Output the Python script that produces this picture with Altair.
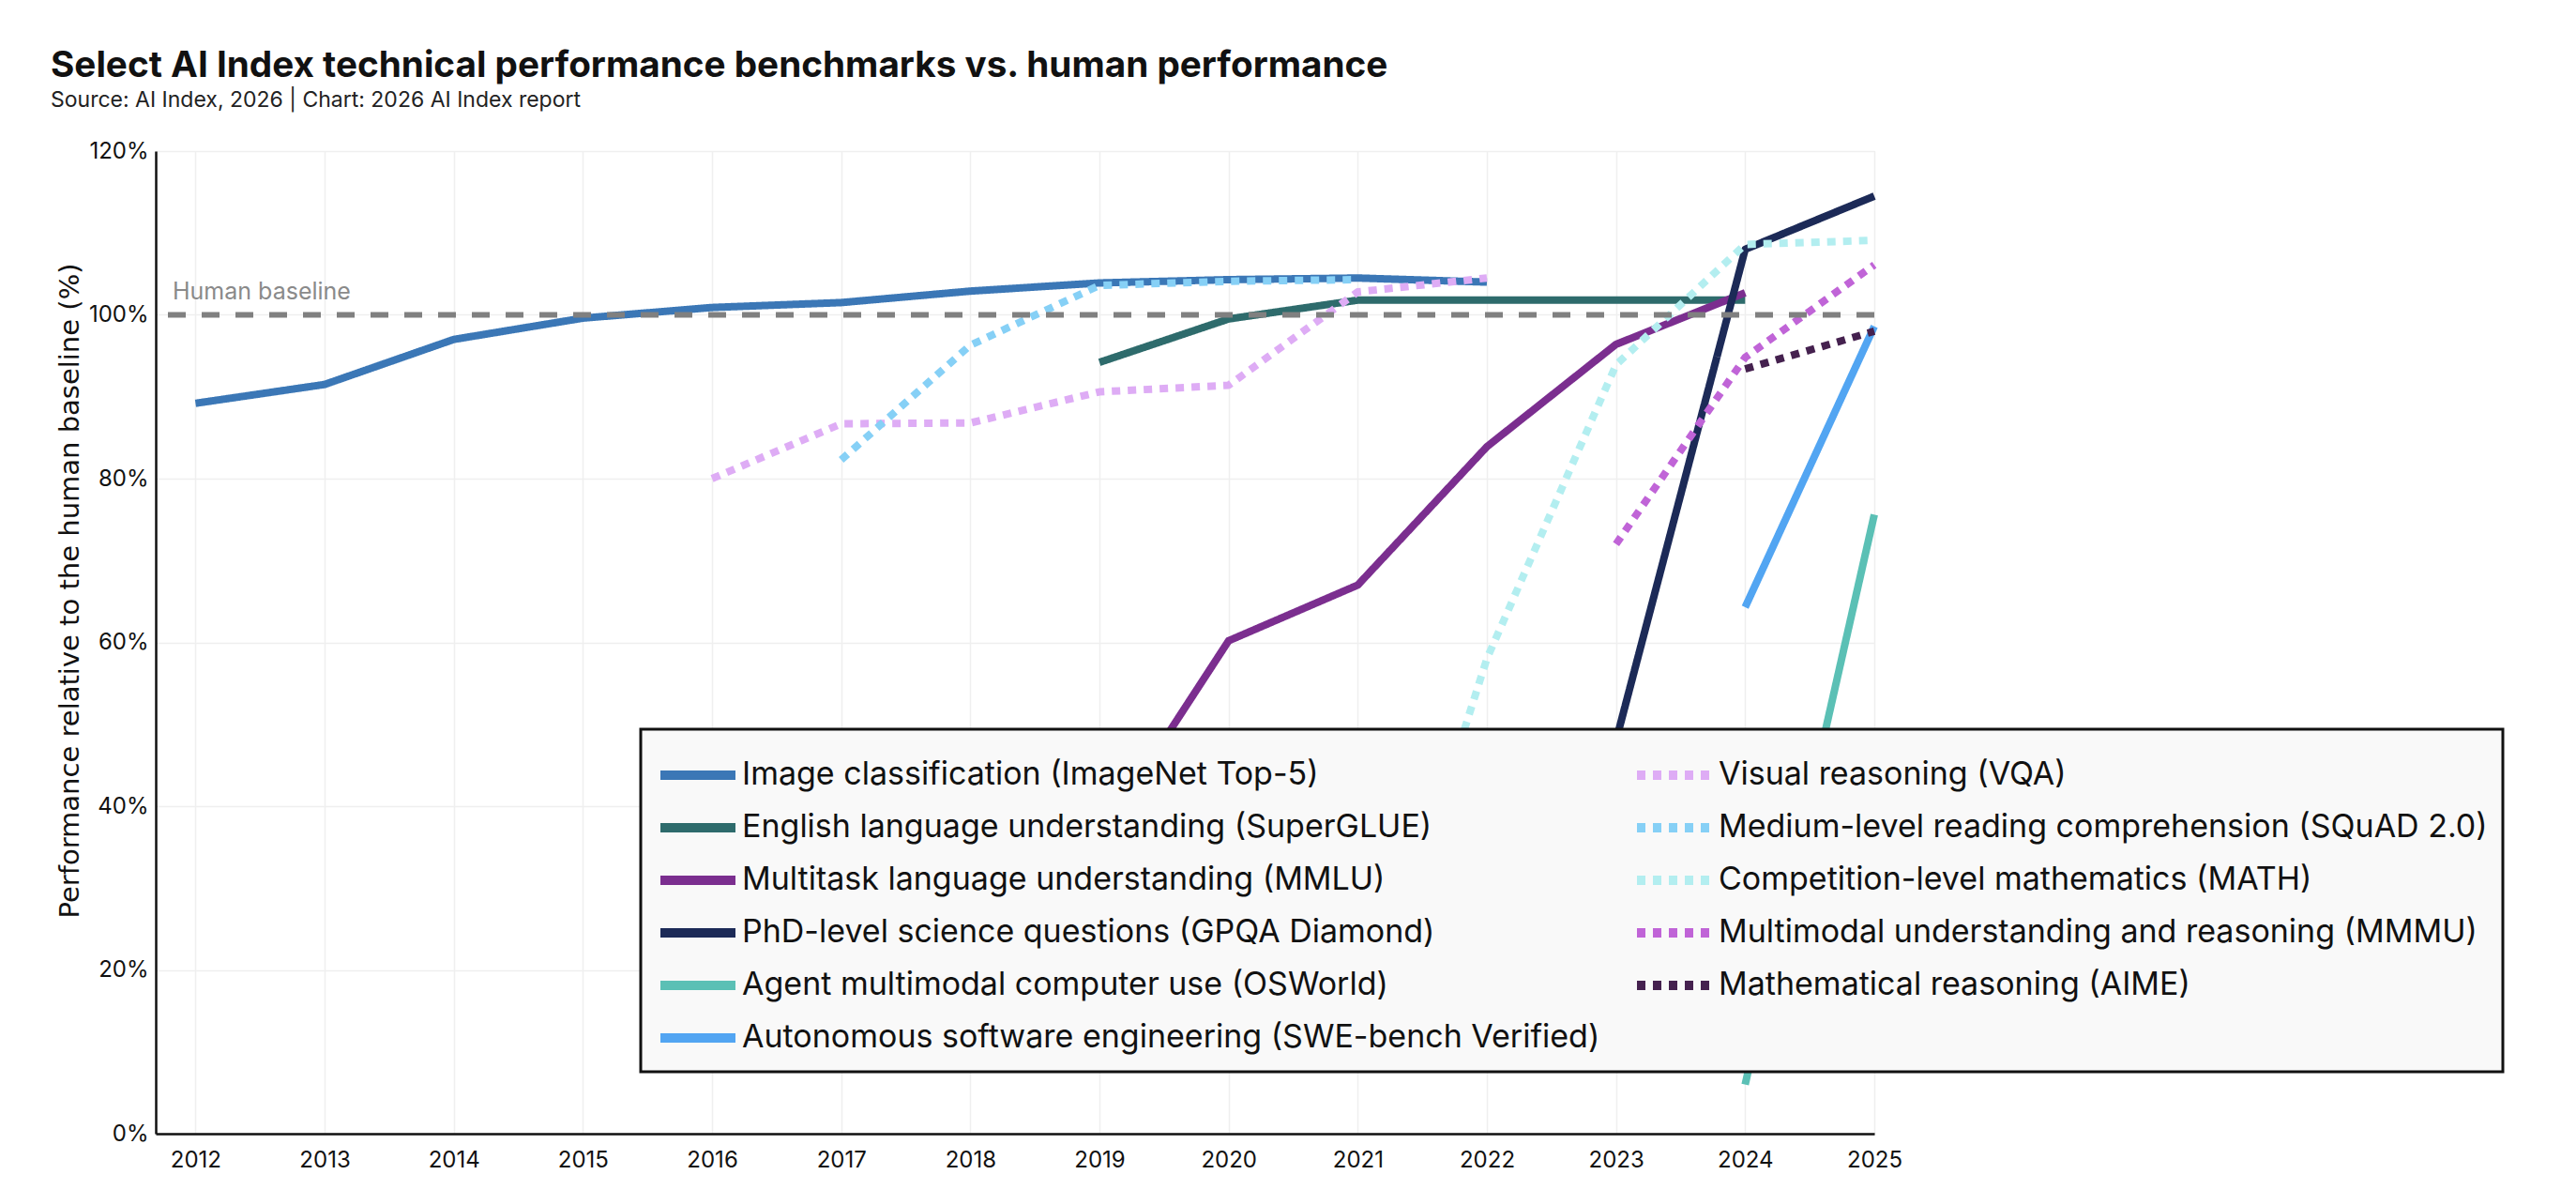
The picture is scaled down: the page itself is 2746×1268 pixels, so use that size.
import altair as alt
import pandas as pd

# ---------------- data ----------------
names = [
    "Image classification (ImageNet Top-5)",
    "English language understanding (SuperGLUE)",
    "Multitask language understanding (MMLU)",
    "PhD-level science questions (GPQA Diamond)",
    "Agent multimodal computer use (OSWorld)",
    "Autonomous software engineering (SWE-bench Verified)",
    "Visual reasoning (VQA)",
    "Medium-level reading comprehension (SQuAD 2.0)",
    "Competition-level mathematics (MATH)",
    "Multimodal understanding and reasoning (MMMU)",
    "Mathematical reasoning (AIME)",
]
colors = ["#3b77b6", "#2e6b6c", "#7b2e8f", "#1c2a57", "#5bc0b5", "#52a5f2",
          "#deacf5", "#86d0f6", "#b3eef0", "#c064d7", "#45214f"]
dotted = [False, False, False, False, False, False, True, True, True, True, True]

imagenet_years = [2012, 2013, 2014, 2015, 2016, 2017, 2018, 2019, 2020, 2021, 2022]
imagenet_vals = [89.2, 91.5, 97.0, 99.6, 100.9, 101.5, 102.9, 103.9, 104.3, 104.5, 104.0]

superglue_years = [2019, 2020, 2021, 2022, 2023, 2024]
superglue_vals = [94.2, 99.5, 101.8, 101.8, 101.8, 101.8]

mmlu_years = [2019, 2020, 2021, 2022, 2023, 2024]
mmlu_vals = [36.0, 60.2, 67.0, 83.9, 96.4, 102.7]

gpqa_years = [2023, 2024, 2025]
gpqa_vals = [48.0, 108.0, 114.5]

osworld_years = [2024, 2025]
osworld_vals = [6.0, 75.6]

swe_years = [2024, 2025]
swe_vals = [64.3, 98.6]

vqa_years = [2016, 2017, 2018, 2019, 2020, 2021, 2022]
vqa_vals = [80.0, 86.7, 86.8, 90.6, 91.4, 102.8, 104.5]

squad_years = [2017, 2018, 2019, 2020, 2021]
squad_vals = [82.3, 96.3, 103.6, 104.1, 104.3]

math_years = [2021, 2022, 2023, 2024, 2025]
math_vals = [8.5, 58.0, 93.9, 108.6, 109.1]

mmmu_years = [2023, 2024, 2025]
mmmu_vals = [72.0, 94.8, 106.1]

aime_years = [2024, 2025]
aime_vals = [93.4, 98.0]

x_ticks = [2012, 2013, 2014, 2015, 2016, 2017, 2018, 2019, 2020, 2021, 2022, 2023, 2024, 2025]
y_ticks = [0, 20, 40, 60, 80, 100, 120]
human_baseline = [100]

series_years = [imagenet_years, superglue_years, mmlu_years, gpqa_years, osworld_years, swe_years,
                vqa_years, squad_years, math_years, mmmu_years, aime_years]
series_vals = [imagenet_vals, superglue_vals, mmlu_vals, gpqa_vals, osworld_vals, swe_vals,
               vqa_vals, squad_vals, math_vals, mmmu_vals, aime_vals]

rows = []
for order, (name, ys, vs) in enumerate(zip(names, series_years, series_vals)):
    for yr, v in zip(ys, vs):
        rows.append({"benchmark": name, "year": yr, "value": v, "draw": order})
df = pd.DataFrame(rows)

# legend fills its two columns top to bottom
legend_order = names
color_range = colors
dash_range = [[9, 8] if d else [1, 0] for d in dotted]

FONT = "Inter"

leg = alt.Legend(
    title=None, orient="none", legendX=517, legendY=616, columns=2,
    symbolType="M-1.4286,0H1.4286", symbolSize=3136, symbolStrokeWidth=10, symbolOpacity=1,
    symbolOffset=12,
    labelFont=FONT, labelFontSize=34, labelColor="#111111", labelOffset=14,
    labelLimit=3000, rowPadding=3, columnPadding=18, padding=16,
    fillColor="#f9f9f9", strokeColor="#111111",
)

x_scale = alt.Scale(domain=[2011.692, 2025], nice=False, zero=False)
y_scale = alt.Scale(domain=[0, 120], nice=False)

lines = alt.Chart(df).mark_line(strokeWidth=8, strokeCap="butt", strokeJoin="round").encode(
    x=alt.X("year:Q", scale=x_scale,
            axis=alt.Axis(values=x_ticks, format="d", title=None, labelFont=FONT,
                          labelFontSize=24, labelColor="#111111", labelPadding=16,
                          ticks=False, domainColor="#111111", domainWidth=2.5,
                          gridColor="#efefef", gridWidth=1.5, labelFlush=False)),
    y=alt.Y("value:Q", scale=y_scale,
            axis=alt.Axis(values=y_ticks, labelExpr="datum.value + '%'",
                          title="Performance relative to the human baseline (%)",
                          titleFont="DejaVu Sans", titleFontSize=29, titleFontWeight="normal",
                          titleColor="#111111", titleX=-92, titleY=468, titleAngle=270,
                          titleAlign="center", titleBaseline="middle",
                          labelFont=FONT, labelFontSize=24, labelColor="#111111",
                          labelPadding=8, ticks=False, domainColor="#111111",
                          domainWidth=2.5, gridColor="#efefef", gridWidth=1.5)),
    color=alt.Color("benchmark:N", sort=legend_order,
                    scale=alt.Scale(domain=legend_order, range=color_range), legend=leg),
    strokeDash=alt.StrokeDash("benchmark:N", sort=legend_order,
                              scale=alt.Scale(domain=legend_order, range=dash_range), legend=leg),
    order=alt.Order("year:Q"),
)

base_df = pd.DataFrame({"value": human_baseline, "label": ["Human baseline"]})

rule = alt.Chart(base_df).mark_rule(color="#808080", strokeWidth=6, strokeDash=[19, 17]).encode(
    y=alt.Y("value:Q", scale=y_scale)
)

label = alt.Chart(base_df).mark_text(
    align="left", baseline="alphabetic", dy=-17, font=FONT, fontSize=25, color="#8a8a8a"
).encode(
    x=alt.value(18),
    y=alt.Y("value:Q", scale=y_scale),
    text="label:N",
)

chart = alt.layer(lines, rule, label).properties(
    width=1832, height=1047,
    autosize=alt.AutoSizeParams(type="none"),
    padding={"left": 158, "top": 153, "right": 740, "bottom": 45},
    title=alt.Title(
        text="Select AI Index technical performance benchmarks vs. human performance",
        subtitle="Source: AI Index, 2026 | Chart: 2026 AI Index report",
        anchor="start", frame="group", dx=-112, offset=30,
        font=FONT, fontSize=38.7, fontWeight="bold", color="#111111",
        subtitleFont=FONT, subtitleFontSize=23, subtitleColor="#222222", subtitlePadding=6,
    ),
).configure_view(stroke=None).configure(background="white")

try:
    final = chart.configure_legend(strokeWidth=3)
    final.to_dict()
except Exception:
    final = chart

final.save("out.html", embed_options={"renderer": "svg", "actions": False})
